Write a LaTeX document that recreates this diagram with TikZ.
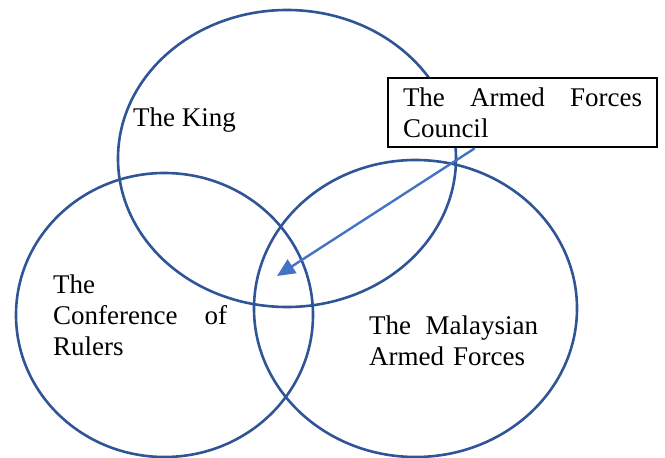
\documentclass[tikz,border=0pt]{standalone}
\usepackage{fontspec}
\setmainfont{Liberation Serif}
\usetikzlibrary{arrows.meta}
\definecolor{ringblue}{HTML}{2F5597}
\definecolor{arrowblue}{HTML}{4472C4}
\begin{document}
\begin{tikzpicture}[x=1pt, y=-1pt,
    ring/.style={draw=ringblue, line width=2.6pt},
    label/.style={anchor=north west, inner sep=0pt, align=left,
        font=\fontsize{27}{31}\selectfont},
    council/.style={draw, fill=white, line width=2.8pt, align=left,
        text width=239pt, inner xsep=15pt, inner ysep=9.5pt,
        font=\fontsize{27}{31}\selectfont}]
            \useasboundingbox (0, 0) rectangle (665, 458);

            \draw[ring] (287, 158.5) ellipse [x radius=169, y radius=148.5];
            \draw[ring] (164.5, 315) ellipse [x radius=148.5, y radius=142];
            \draw[ring] (415.5, 308.5) ellipse [x radius=161.5, y radius=148.5];

            \node[label] (king) at (133, 107.6) {The King};
            \node[label, text width=174pt] (rulers) at (53, 275) {The\\Conference\hfill of\\Rulers};
            \node[label, text width=169pt] (forces) at (369, 315.6) {The\hfill Malaysian\\Armed Forces};

            \node[council] (afc) at (522.5, 112.5) {The\hfill Armed\hfill Forces\\Council};

            \path (277, 276) coordinate (tip);
            \draw[arrowblue, line width=2.4pt, -{Triangle[length=18pt, width=16pt]}] ([xshift=88pt]afc.south west) -- (tip);
        \end{tikzpicture}
\end{document}
